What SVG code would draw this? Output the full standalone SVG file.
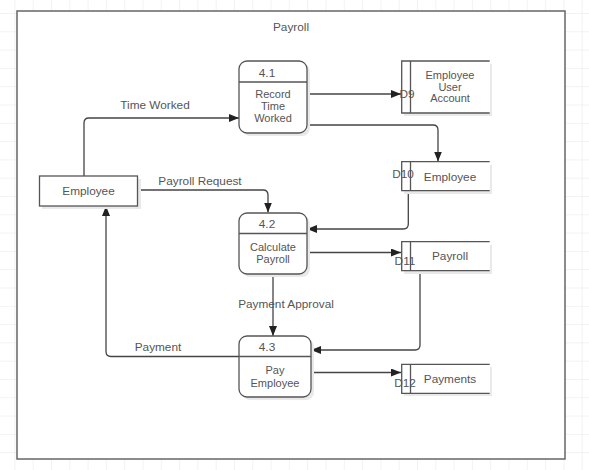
<svg xmlns="http://www.w3.org/2000/svg" width="589" height="470" viewBox="0 0 589 470">
<defs>
<pattern id="grid" x="14.4" y="13" width="18.3" height="18.3" patternUnits="userSpaceOnUse">
<path d="M0,0 V18.3 M0,0 H18.3" fill="none" stroke="#e6e6e6" stroke-width="1"/>
</pattern>
<marker id="arr" markerUnits="userSpaceOnUse" markerWidth="11" markerHeight="9" refX="10" refY="4" orient="auto">
<path d="M0,0 L10,4 L0,8 z" fill="#222"/>
</marker>
</defs>
<style>
text{font-family:"Liberation Sans",Arial,sans-serif;font-size:11.8px;fill:#555;text-anchor:middle}
text.w{font-size:11px}
.proc{fill:#fff;stroke:#555;stroke-width:1.3}
.shadow{fill:#e9e9e9}
.div{stroke:#555;stroke-width:1.3}
.store{fill:#fff;stroke:#555;stroke-width:1.3}
.conn{fill:none;stroke:#444;stroke-width:1.3;marker-end:url(#arr)}
</style>
<rect x="0" y="0" width="589" height="470" fill="#fff"/>
<rect x="0" y="0" width="589" height="470" fill="url(#grid)"/>
<rect x="17" y="11" width="548" height="448" fill="#fff" stroke="#666" stroke-width="1.5"/>
<text x="291" y="31">Payroll</text>

<g id="connectors">
<path class="conn" d="M84,176 V123 Q84,118 89,118 H239"/>
<path class="conn" d="M138,190 H263 Q268,190 268,195 V212.5"/>
<path class="conn" d="M307,94 H401"/>
<path class="conn" d="M307,125 H433 Q438,125 438,130 V161.5"/>
<path class="conn" d="M408.3,190 V224 Q408.3,229 403.3,229 H307"/>
<path class="conn" d="M307,252.5 H401"/>
<path class="conn" d="M420,270 V345 Q420,350 415,350 H311"/>
<path class="conn" d="M273,274 V336"/>
<path class="conn" d="M311,372.5 H401"/>
<path class="conn" d="M239,356.5 H111 Q106,356.5 106,351.5 V206"/>
<text x="155" y="109">Time Worked</text>
<text x="200" y="185">Payroll Request</text>
<text x="286" y="308">Payment Approval</text>
<text x="158" y="351">Payment</text>
</g>

<g id="employee">
<rect class="shadow" x="42" y="179" width="99" height="30"/>
<rect class="proc" x="39.5" y="176" width="98" height="30"/>
<text x="88.5" y="195">Employee</text>
</g>

<g id="p41">
<rect class="shadow" x="242" y="64" width="68" height="72" rx="8"/>
<rect class="proc" x="239" y="61" width="68" height="72" rx="8"/>
<line class="div" x1="239" y1="82" x2="307" y2="82"/>
<text x="267" y="77">4.1</text>
<text class="w" x="273" y="98">Record</text>
<text class="w" x="273" y="110">Time</text>
<text class="w" x="273" y="122">Worked</text>
</g>

<g id="p42">
<rect class="shadow" x="242" y="216" width="68" height="61" rx="8"/>
<rect class="proc" x="239" y="213" width="68" height="61" rx="8"/>
<line class="div" x1="239" y1="233.5" x2="307" y2="233.5"/>
<text x="267" y="228">4.2</text>
<text class="w" x="273" y="250.5">Calculate</text>
<text class="w" x="273" y="263">Payroll</text>
</g>

<g id="p43">
<rect class="shadow" x="242" y="339" width="72" height="61" rx="8"/>
<rect class="proc" x="239" y="336" width="72" height="61" rx="8"/>
<line class="div" x1="239" y1="356.5" x2="311" y2="356.5"/>
<text x="267" y="351">4.3</text>
<text class="w" x="275" y="374">Pay</text>
<text class="w" x="275" y="387">Employee</text>
</g>

<g id="d9">
<rect class="shadow" x="404" y="64" width="88" height="52"/>
<rect x="401.7" y="61" width="88" height="52" fill="#fff"/>
<path class="store" d="M489.7,61 H401.7 V113 H489.7"/>
<line class="div" x1="410.5" y1="61" x2="410.5" y2="113"/>
<text class="w" x="450" y="79">Employee</text>
<text class="w" x="450" y="90.5">User</text>
<text class="w" x="450" y="102">Account</text>
<text x="407" y="98">D9</text>
</g>

<g id="d10">
<rect class="shadow" x="404" y="165" width="88" height="29"/>
<rect x="401.7" y="161.7" width="88" height="29" fill="#fff"/>
<path class="store" d="M489.7,161.7 H401.7 V190.7 H489.7"/>
<line class="div" x1="410.5" y1="161.7" x2="410.5" y2="190.7"/>
<text x="450" y="181">Employee</text>
<text x="403" y="178">D10</text>
</g>

<g id="d11">
<rect class="shadow" x="404" y="245" width="88" height="29"/>
<rect x="401.7" y="241.7" width="88" height="29" fill="#fff"/>
<path class="store" d="M489.7,241.7 H401.7 V270.7 H489.7"/>
<line class="div" x1="410.5" y1="241.7" x2="410.5" y2="270.7"/>
<text x="450" y="260">Payroll</text>
<text x="405" y="265">D11</text>
</g>

<g id="d12">
<rect class="shadow" x="404" y="367" width="88" height="29"/>
<rect x="401.7" y="364.3" width="88" height="29" fill="#fff"/>
<path class="store" d="M489.7,364.3 H401.7 V393.3 H489.7"/>
<line class="div" x1="410.5" y1="364.3" x2="410.5" y2="393.3"/>
<text x="450" y="383">Payments</text>
<text x="405" y="387">D12</text>
</g>
</svg>
